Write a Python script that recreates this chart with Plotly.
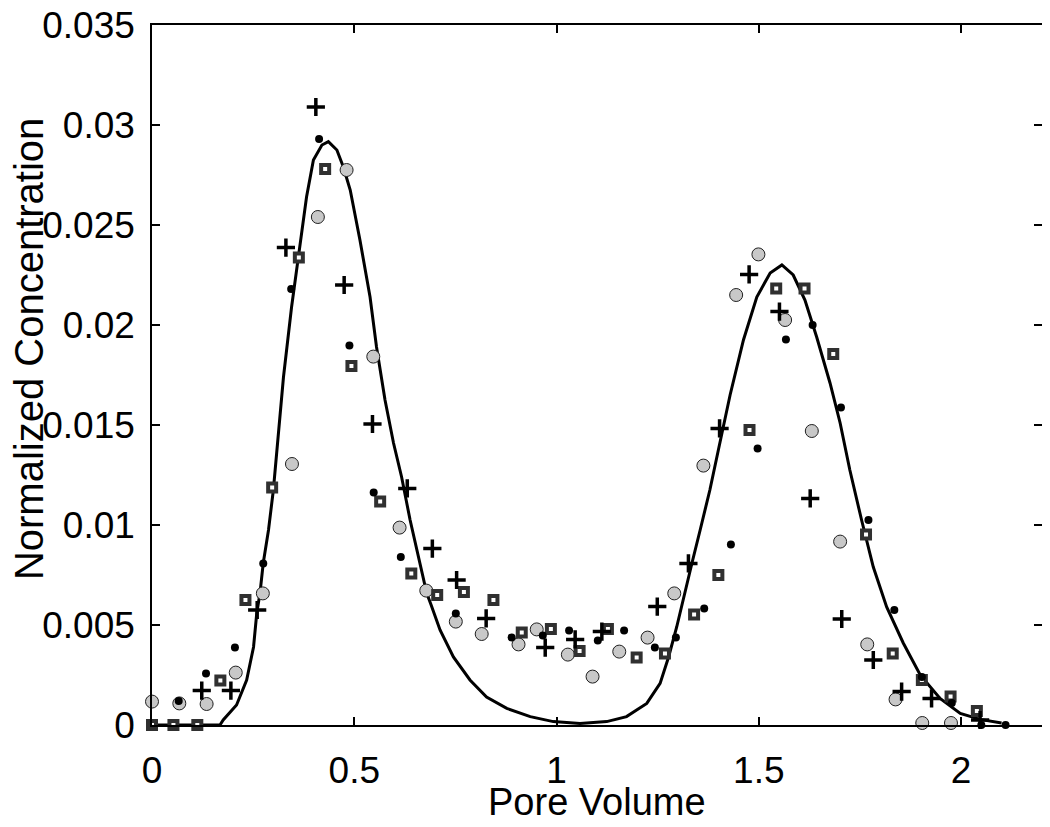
import plotly.graph_objects as go

# ---- data ----
model_x = [0.0, 0.168, 0.176, 0.209, 0.234, 0.251, 0.259, 0.267, 0.275, 0.288, 0.300, 0.325, 0.345,
           0.366, 0.382, 0.399, 0.420, 0.436, 0.457, 0.473, 0.490, 0.514, 0.539, 0.555, 0.576, 0.597,
           0.617, 0.638, 0.658, 0.679, 0.690, 0.712, 0.745, 0.786, 0.827, 0.877, 0.935, 0.992, 1.058,
           1.124, 1.173, 1.223, 1.256, 1.277, 1.297, 1.322, 1.336, 1.355, 1.379, 1.400, 1.429, 1.462,
           1.495, 1.528, 1.557, 1.585, 1.614, 1.643, 1.676, 1.701, 1.725, 1.754, 1.783, 1.816, 1.857,
           1.899, 1.948, 1.998, 2.047, 2.100]
model_y = [0.0, 0.0, 0.00025, 0.001, 0.00225, 0.0039, 0.0056, 0.0066, 0.0081, 0.00975, 0.01175, 0.0174,
           0.0209, 0.0239, 0.0264, 0.02825, 0.0290, 0.02917, 0.02875, 0.0279, 0.02675, 0.02425, 0.0214,
           0.0189, 0.01625, 0.0141, 0.0124, 0.01025, 0.0084, 0.0066, 0.0060, 0.00475, 0.0034, 0.00225,
           0.0014, 0.00083, 0.00042, 0.00017, 0.00008, 0.00017, 0.00042, 0.00108, 0.00208, 0.0034,
           0.0049, 0.0071, 0.0082, 0.00975, 0.01175, 0.01375, 0.0165, 0.01925, 0.0214, 0.0226, 0.0230,
           0.0225, 0.02125, 0.0194, 0.0171, 0.0151, 0.01275, 0.01025, 0.0079, 0.0059, 0.0041, 0.0025,
           0.00133, 0.00058, 0.00028, 0.0001]

circle_x = [0.0, 0.0675, 0.135, 0.207, 0.274, 0.346, 0.410, 0.481, 0.547, 0.612, 0.678, 0.751, 0.815,
            0.906, 0.951, 1.028, 1.089, 1.155, 1.225, 1.291, 1.363, 1.444, 1.499, 1.565, 1.631, 1.701,
            1.768, 1.838, 1.904, 1.975]
circle_y = [0.00117, 0.00108, 0.00105, 0.00262, 0.00658, 0.01305, 0.0254, 0.02775, 0.01842, 0.00987,
            0.00672, 0.00517, 0.00455, 0.00403, 0.00478, 0.00352, 0.00242, 0.00367, 0.00437, 0.00658,
            0.01297, 0.0215, 0.02353, 0.02025, 0.0147, 0.00917, 0.00403, 0.00128, 0.0001, 0.0001]

square_x = [0.0, 0.053, 0.112, 0.169, 0.231, 0.297, 0.363, 0.428, 0.493, 0.564, 0.641, 0.705, 0.771,
            0.844, 0.914, 0.986, 1.057, 1.127, 1.198, 1.268, 1.340, 1.400, 1.477, 1.543, 1.613, 1.684,
            1.765, 1.831, 1.903, 1.974, 2.039]
square_y = [0.0, 0.0, 0.0, 0.00223, 0.00625, 0.01188, 0.02337, 0.0278, 0.01795, 0.01118, 0.00758,
            0.0065, 0.00665, 0.00625, 0.00463, 0.0048, 0.0037, 0.0048, 0.00338, 0.00358, 0.00553, 0.0075,
            0.01475, 0.02183, 0.02183, 0.01855, 0.00953, 0.00358, 0.00225, 0.00142, 0.0007]

dot_x = [0.066, 0.1335, 0.205, 0.275, 0.344, 0.413, 0.488, 0.548, 0.615, 0.751, 0.889, 0.966, 1.031,
         1.102, 1.167, 1.243, 1.295, 1.365, 1.431, 1.497, 1.567, 1.633, 1.703, 1.771, 1.835, 1.903,
         1.977, 2.050, 2.110]
dot_y = [0.0012, 0.00258, 0.00388, 0.00808, 0.0218, 0.0293, 0.01897, 0.01162, 0.0084, 0.00558, 0.00438,
         0.00447, 0.00472, 0.00422, 0.00472, 0.00388, 0.00438, 0.00583, 0.00902, 0.01383, 0.01928,
         0.0200, 0.01587, 0.01025, 0.00575, 0.0024, 0.0011, 0.0, 0.0]

plus_x = [0.123, 0.195, 0.260, 0.331, 0.405, 0.475, 0.545, 0.631, 0.693, 0.753, 0.826, 0.972, 1.046,
          1.112, 1.249, 1.326, 1.403, 1.476, 1.551, 1.627, 1.705, 1.783, 1.853, 1.927, 2.047]
plus_y = [0.00172, 0.00172, 0.00575, 0.02387, 0.0309, 0.0220, 0.01505, 0.01183, 0.00882, 0.00725,
          0.00533, 0.00387, 0.00428, 0.00467, 0.00592, 0.00808, 0.01483, 0.02253, 0.02067, 0.01133,
          0.0053, 0.00325, 0.00167, 0.00133, 0.00025]

x_ticks = [0, 0.5, 1, 1.5, 2]
x_tick_labels = ["0", "0.5", "1", "1.5", "2"]
y_ticks = [0, 0.005, 0.01, 0.015, 0.02, 0.025, 0.03, 0.035]
y_tick_labels = ["0", "0.005", "0.01", "0.015", "0.02", "0.025", "0.03", "0.035"]
x_title = "Pore Volume"
y_title = "Normalized Concentration"

FONT = "Liberation Sans, Arial"

fig = go.Figure()

fig.add_trace(go.Scatter(x=model_x, y=model_y, mode="lines",
                         line=dict(color="black", width=3), showlegend=False))
fig.add_trace(go.Scatter(x=circle_x, y=circle_y, mode="markers", cliponaxis=False,
                         marker=dict(symbol="circle", size=13, color="#c8c8c8",
                                     line=dict(color="#202020", width=1)), showlegend=False))
fig.add_trace(go.Scatter(x=square_x, y=square_y, mode="markers", cliponaxis=False,
                         marker=dict(symbol="square", size=8, color="white",
                                     line=dict(color="#303030", width=4)), showlegend=False))
fig.add_trace(go.Scatter(x=dot_x, y=dot_y, mode="markers", cliponaxis=False,
                         marker=dict(symbol="circle", size=8, color="black"), showlegend=False))
fig.add_trace(go.Scatter(x=plus_x, y=plus_y, mode="markers", cliponaxis=False,
                         marker=dict(symbol="cross-thin", size=13, color="black",
                                     line=dict(color="black", width=3.5)), showlegend=False))

axis_common = dict(showgrid=False, zeroline=False, showline=True, linecolor="black", linewidth=1.5,
                   mirror="allticks", ticks="inside", ticklen=8, tickwidth=1.5, tickcolor="black",
                   automargin=False, ticklabeloverflow="allow",
                   tickfont=dict(family=FONT, size=37, color="black"))

# page body has an 8px margin, so the figure is sized/offset to compensate
fig.update_layout(
    width=1042, height=819,
    margin=dict(l=144, r=8, t=17, b=102, autoexpand=False),
    paper_bgcolor="white", plot_bgcolor="white",
    font=dict(family=FONT, color="black"),
    xaxis=dict(range=[0, 2.2], tickvals=x_ticks, ticktext=x_tick_labels,
               ticklabelstandoff=12, **axis_common),
    yaxis=dict(range=[0, 0.035], tickvals=y_ticks, ticktext=y_tick_labels,
               ticklabelstandoff=8, **axis_common),
    annotations=[
        dict(text=x_title, xref="paper", yref="paper", x=0.5, y=0, yshift=-77,
             xanchor="center", yanchor="middle", showarrow=False,
             font=dict(family=FONT, size=38, color="black")),
        dict(text=y_title, xref="paper", yref="paper", x=0, y=0.537, xshift=-123,
             xanchor="center", yanchor="middle", textangle=-90, showarrow=False,
             font=dict(family=FONT, size=40, color="black")),
    ],
)

fig.write_html("out.html")
